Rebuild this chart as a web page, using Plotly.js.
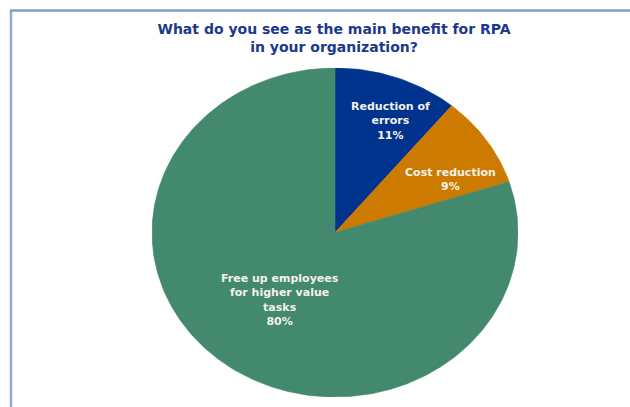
<!DOCTYPE html>
<html>
<head>
<meta charset="utf-8">
<script src="https://cdn.plot.ly/plotly-3.0.1.min.js"></script>
<style>
  html, body { margin: 0; padding: 0; background: #ffffff; }
  #chart { width: 630px; height: 407px; }
</style>
</head>
<body>
<div id="chart"></div>
<script>
// ---- data ----
const categories = ["Reduction of<br>errors", "Cost reduction", "Free up employees<br>for higher value<br>tasks"];
const values = [11, 9, 80];
const colors = ["#00338d", "#cc7a00", "#43896e"];
const titleText = "What do you see as the main benefit for RPA<br>in your organization?";

// ---- layout constants (pixels / label placement) ----
const W = 630, H = 407;
const plotLeft = 152, plotRight = 518, plotTop = 68, plotBottom = 397;
const labelRadius = [0.74, 0.71, 0.51];
const labelAngleShiftDeg = [4.2, 7.3, 0];
const fontFam = "DejaVu Sans, Verdana, sans-serif";

const total = values.reduce((a, b) => a + b, 0);
const traces = [];
const annotations = [];
let cum = 0;
values.forEach((v, i) => {
  const a0 = cum / total * 2 * Math.PI;
  const a1 = (cum + v) / total * 2 * Math.PI;
  const n = Math.max(8, Math.ceil((a1 - a0) / (Math.PI / 180)));
  const xs = [0], ys = [0];
  for (let k = 0; k <= n; k++) {
    const a = a0 + (a1 - a0) * k / n;
    xs.push(Math.sin(a));
    ys.push(Math.cos(a));
  }
  xs.push(0); ys.push(0);
  traces.push({
    type: "scatter", mode: "lines", x: xs, y: ys,
    fill: "toself", fillcolor: colors[i],
    line: { color: colors[i], width: 0.6 },
    hoverinfo: "skip", showlegend: false
  });
  const am = (a0 + a1) / 2 + labelAngleShiftDeg[i] * Math.PI / 180;
  annotations.push({
    x: labelRadius[i] * Math.sin(am), y: labelRadius[i] * Math.cos(am),
    xref: "x", yref: "y", showarrow: false,
    text: categories[i] + "<br>" + v + "%",
    align: "center",
    font: { family: fontFam, size: 11, color: "#f2f2e8", weight: "bold" }
  });
  cum += v;
});

const pw = plotRight - plotLeft, ph = plotBottom - plotTop;
const px = p => (p - plotLeft) / pw;
const py = p => (plotBottom - p) / ph;

const layout = {
  width: W, height: H,
  margin: { l: plotLeft, r: W - plotRight, t: plotTop, b: H - plotBottom, pad: 0 },
  paper_bgcolor: "#ffffff", plot_bgcolor: "rgba(0,0,0,0)",
  title: {
    text: titleText,
    xref: "paper", yref: "container",
    x: px(334), xanchor: "center", y: 1 - 34 / H, yanchor: "middle",
    font: { family: fontFam, size: 14, color: "#1b388c", weight: "bold" }
  },
  xaxis: { range: [-1, 1], visible: false, fixedrange: true },
  yaxis: { range: [-1, 1], visible: false, fixedrange: true },
  showlegend: false, hovermode: false,
  annotations: annotations,
  shapes: [
    { type: "line", xref: "paper", yref: "paper", x0: px(11), x1: px(11), y0: py(10), y1: py(H + 5),
      line: { color: "#8fa9d6", width: 2.5 } },
    { type: "line", xref: "paper", yref: "paper", x0: px(10), x1: px(W + 5), y0: py(10.5), y1: py(10.5),
      line: { color: "#7f9bcc", width: 2.5 } }
  ]
};

Plotly.newPlot("chart", traces, layout, { displayModeBar: false, staticPlot: true });
</script>
</body>
</html>
